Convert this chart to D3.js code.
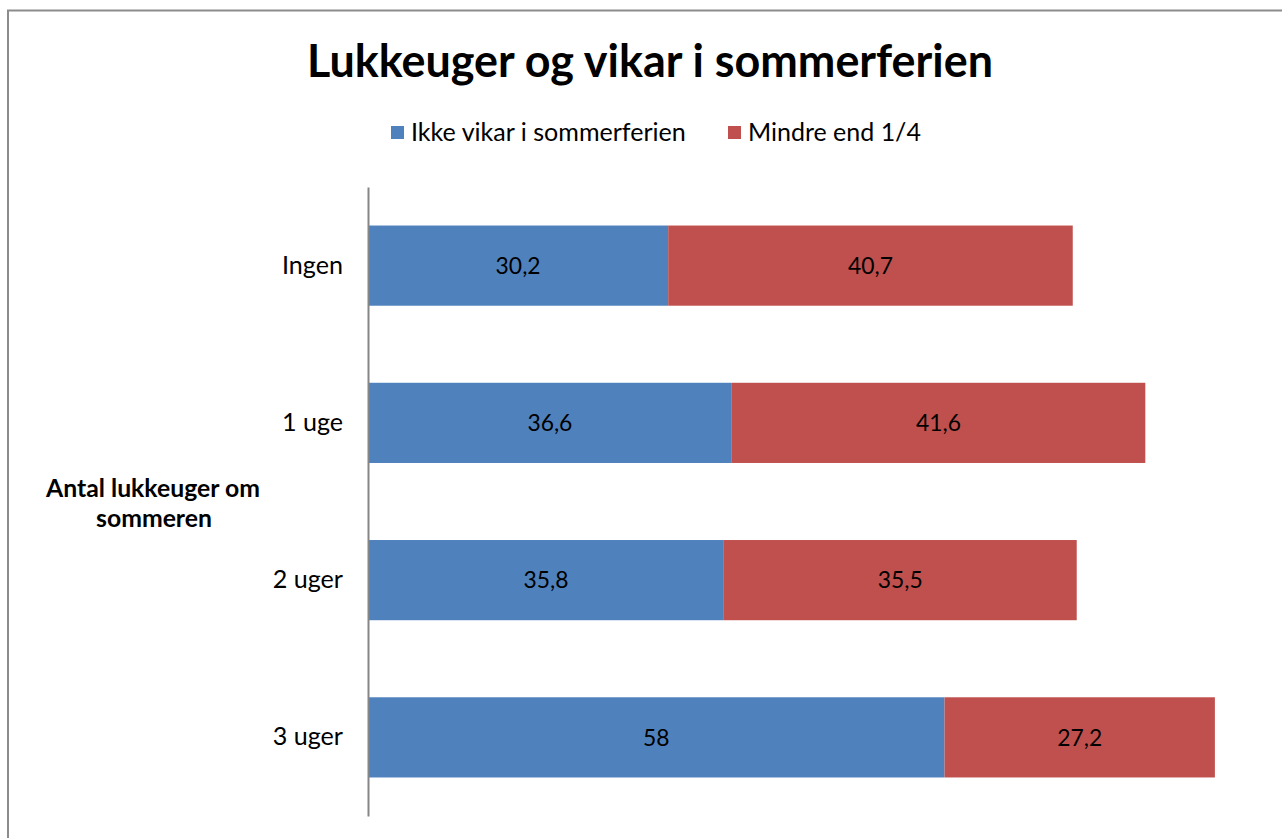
<!DOCTYPE html>
<meta charset="utf-8">
<script src="https://d3js.org/d3.v7.min.js"></script>
<style>
  body { margin: 0; background: #fff; }
  svg { display: block; font-family: Lato, "Open Sans", sans-serif; }
</style>
<body>
<script>

// chart data
var categories = ["Ingen", "1 uge", "2 uger", "3 uger"];
var seriesNames = ["Ikke vikar i sommerferien", "Mindre end 1/4"];
var ikkeVikar = [30.2, 36.6, 35.8, 58];
var mindreEnd = [40.7, 41.6, 35.5, 27.2];
var seriesColors = ["#4F81BD", "#C0504D"];

var width = 1282, height = 838;

var svg = d3.select("body").append("svg")
    .attr("width", width)
    .attr("height", height);

// font size that makes a text span the wanted width
function fitSize(sel, w) {
  var len = sel.node().getComputedTextLength();
  var fs = parseFloat(sel.style("font-size"));
  return fs * w / len;
}
function fit(sel, w) {
  sel.style("font-size", fitSize(sel, w) + "px");
}

// outer frame (right and bottom fall outside the picture)
svg.append("rect")
    .attr("x", 8).attr("y", 10.5)
    .attr("width", 1400).attr("height", 900)
    .attr("fill", "none")
    .attr("stroke", "#8c8c8c")
    .attr("stroke-width", 2);

// title
var title = svg.append("text")
    .attr("x", 650).attr("y", 77)
    .attr("text-anchor", "middle")
    .style("font-size", "40px")
    .style("font-weight", "bold")
    .text("Lukkeuger og vikar i sommerferien");
fit(title, 686);

// scales
var x = d3.scaleLinear().domain([0, 90]).range([368, 368 + 894.6]);
var y = d3.scaleBand().domain(categories).range([187, 816]).paddingInner(0.49).paddingOuter(0.245);

var rows = categories.map(function(c, i) {
  return { cat: c, vals: [ikkeVikar[i], mindreEnd[i]] };
});

// size for the data labels, taken from the first one
var probe = svg.append("text").style("font-size", "20px").text("30,2");
var labelSize = fitSize(probe, 45);
probe.remove();

// bars
rows.forEach(function(r) {
  var start = 0;
  r.vals.forEach(function(v, j) {
    svg.append("rect")
        .attr("x", x(start))
        .attr("y", y(r.cat))
        .attr("width", x(start + v) - x(start))
        .attr("height", y.bandwidth())
        .attr("fill", seriesColors[j]);
    svg.append("text")
        .attr("x", (x(start) + x(start + v)) / 2)
        .attr("y", y(r.cat) + y.bandwidth() / 2)
        .attr("dy", "0.36em")
        .attr("text-anchor", "middle")
        .style("font-size", labelSize + "px")
        .text(String(v).replace(".", ","));
    start += v;
  });
});

// y axis
var yAxis = svg.append("g")
    .attr("transform", "translate(368,0)")
    .call(d3.axisLeft(y).tickSize(0).tickPadding(25));
yAxis.select(".domain").attr("stroke", "#868686").attr("stroke-width", 2);
var ticks = yAxis.selectAll("text")
    .style("font-size", "20px")
    .style("font-family", "Lato, 'Open Sans', sans-serif")
    .attr("fill", "#000");
var tickSize = fitSize(yAxis.select(".tick text"), 61);
ticks.style("font-size", tickSize + "px");

// axis title
var yTitle = svg.append("text")
    .attr("x", 153)
    .attr("text-anchor", "middle")
    .style("font-size", "18px")
    .style("font-weight", "bold");
var t1 = yTitle.append("tspan").attr("x", 153).attr("y", 497).text("Antal lukkeuger om");
yTitle.append("tspan").attr("x", 154).attr("y", 527).text("sommeren");
yTitle.style("font-size", fitSize(t1, 214) + "px");

// legend
var legendX = [391, 728];
var legendW = [275, 173];
seriesNames.forEach(function(n, i) {
  svg.append("rect")
      .attr("x", legendX[i]).attr("y", 126)
      .attr("width", 13).attr("height", 13)
      .attr("fill", seriesColors[i]);
  var lt = svg.append("text")
      .attr("x", legendX[i] + 20).attr("y", 141)
      .style("font-size", "20px")
      .text(n);
  fit(lt, legendW[i]);
});

</script>
</body>
